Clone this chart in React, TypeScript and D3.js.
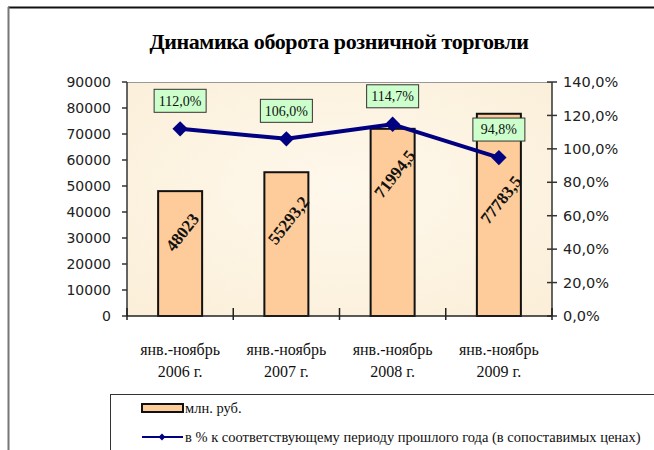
import React from "react";
import * as d3 from "d3";

const categoriesTop = ["янв.-ноябрь", "янв.-ноябрь", "янв.-ноябрь", "янв.-ноябрь"];
const categoriesBottom = ["2006 г.", "2007 г.", "2008 г.", "2009 г."];
const barValues = [48023, 55293.2, 71994.5, 77783.5];
const barLabels = ["48023", "55293,2", "71994,5", "77783,5"];
const pctValues = [112.0, 106.0, 114.7, 94.8];
const pctLabels = ["112,0%", "106,0%", "114,7%", "94,8%"];
const leftTicks = [0, 10000, 20000, 30000, 40000, 50000, 60000, 70000, 80000, 90000];
const rightTicks = [0, 20, 40, 60, 80, 100, 120, 140];
const legendBar = "млн. руб.";
const legendLine = "в % к соответствующему периоду прошлого года (в сопоставимых ценах)";
const title = "Динамика оборота розничной торговли";

// layout: bar label centre offset below bar top
const barLabelDy = [41, 48, 45, 86];

export default function App() {
  const W = 654, H = 450;
  const x0 = 127, x1 = 552, yTop = 82, yBot = 316;
  const idx = d3.range(barValues.length);
  const xBand = d3.scaleBand<number>().domain(idx).range([x0, x1]).paddingInner(0).paddingOuter(0);
  const yL = d3.scaleLinear().domain([0, 90000]).range([yBot, yTop]);
  const yR = d3.scaleLinear().domain([0, 140]).range([yBot, yTop]);
  const bw = xBand.bandwidth();
  const barW = 44;
  const cx = (i: number) => (xBand(i) as number) + bw / 2;
  const line = d3.line<number>().x((d, i) => cx(i)).y((d) => yR(d));
  const serif = "Liberation Serif, Times New Roman, serif";
  const sans = "DejaVu Sans, Tahoma, sans-serif";
  const fmtL = (v: number) => String(v);
  const fmtR = (v: number) => v.toFixed(1).replace(".", ",") + "%";

  return (
    <svg width={W} height={H} style={{ position: "absolute", left: 0, top: 0 }}>
      <defs>
        <radialGradient id="bg" cx="50%" cy="45%" r="70%">
          <stop offset="0%" stopColor="#fef8ec" />
          <stop offset="100%" stopColor="#fbefd9" />
        </radialGradient>
      </defs>
      <rect x={0} y={0} width={W} height={H} fill="#ffffff" />
      {/* frame */}
      <line x1={8} y1={7.5} x2={W} y2={7.5} stroke="#111" strokeWidth={2} />
      <line x1={8.5} y1={7} x2={8.5} y2={H} stroke="#777" strokeWidth={2} />
      {/* title */}
      <text x={339} y={49} textAnchor="middle" fontFamily={serif} fontWeight="bold" fontSize={22} fill="#000" letterSpacing={-0.4}>
        {title}
      </text>
      {/* plot area */}
      <rect x={x0} y={yTop} width={x1 - x0} height={yBot - yTop} fill="url(#bg)" />
      <line x1={x0} y1={yTop + 0.5} x2={x1} y2={yTop + 0.5} stroke="#999" strokeWidth={1} />
      {/* bars */}
      {barValues.map((v, i) => (
        <rect key={"b" + i} x={cx(i) - barW / 2} y={yL(v)} width={barW} height={yBot - yL(v)}
          fill="#fdcc9a" stroke="#111" strokeWidth={2} />
      ))}
      {/* left axis */}
      <line x1={x0} y1={yTop} x2={x0} y2={yBot} stroke="#333" strokeWidth={1.5} />
      {leftTicks.map((t) => (
        <g key={"lt" + t}>
          <line x1={x0 - 5} x2={x0} y1={yL(t)} y2={yL(t)} stroke="#333" strokeWidth={1.5} />
          <text x={111} y={yL(t)} dy="0.35em" textAnchor="end" fontFamily={sans} fontSize={14} fill="#222">
            {fmtL(t)}
          </text>
        </g>
      ))}
      {/* right axis */}
      <line x1={x1} y1={yTop} x2={x1} y2={yBot} stroke="#333" strokeWidth={1.5} />
      {rightTicks.map((t) => (
        <g key={"rt" + t}>
          <line x1={x1 - 5} x2={x1 + 5} y1={yR(t)} y2={yR(t)} stroke="#333" strokeWidth={1.5} />
          <text x={563} y={yR(t)} dy="0.35em" textAnchor="start" fontFamily={sans} fontSize={14.5} fill="#222">
            {fmtR(t)}
          </text>
        </g>
      ))}
      {/* bottom axis */}
      <line x1={x0} y1={yBot} x2={x1} y2={yBot} stroke="#222" strokeWidth={1.5} />
      {d3.range(barValues.length + 1).map((k) => {
        const xx = x0 + k * bw;
        return <line key={"bt" + k} x1={xx} x2={xx} y1={yBot - 8} y2={yBot + 4} stroke="#222" strokeWidth={1.5} />;
      })}
      {categoriesTop.map((c, i) => (
        <text key={"c" + i} x={cx(i)} fontFamily={serif} fontSize={16} fill="#111" textAnchor="middle">
          <tspan x={cx(i)} y={355}>{c}</tspan>
          <tspan x={cx(i)} y={377}>{categoriesBottom[i]}</tspan>
        </text>
      ))}
      {/* bar labels */}
      {barValues.map((v, i) => (
        <text key={"bl" + i} transform={`translate(${cx(i) + 2},${yL(v) + barLabelDy[i]}) rotate(-52)`}
          textAnchor="middle" dy="0.35em" fontFamily={serif} fontWeight="bold" fontSize={17} fill="#111">
          {barLabels[i]}
        </text>
      ))}
      {/* line */}
      <path d={line(pctValues) as string} fill="none" stroke="#000080" strokeWidth={4} strokeLinejoin="round" />
      {pctValues.map((p, i) => (
        <path key={"m" + i} d={d3.symbol(d3.symbolDiamond2, 150)() as string}
          transform={`translate(${cx(i)},${yR(p)})`} fill="#000080" />
      ))}
      {/* pct labels */}
      {pctValues.map((p, i) => {
        const w = 52, h = 23;
        const ccy = yR(p) - 28;
        return (
          <g key={"pl" + i}>
            <rect x={cx(i) - w / 2} y={ccy - h / 2} width={w} height={h} fill="#ccffcc" stroke="#333" strokeWidth={1} />
            <text x={cx(i)} y={ccy} dy="0.35em" textAnchor="middle" fontFamily={serif} fontSize={14} fill="#111">
              {pctLabels[i]}
            </text>
          </g>
        );
      })}
      {/* legend */}
      <rect x={110.5} y={394.5} width={W} height={80} fill="#fff" stroke="#333" strokeWidth={1} />
      <rect x={142} y={404} width={41} height={8} fill="#fdcc9a" stroke="#111" strokeWidth={2} />
      <text x={185} y={408} dy="0.35em" fontFamily={serif} fontSize={14.5} fill="#111">{legendBar}</text>
      <line x1={142} x2={183} y1={437} y2={437} stroke="#000080" strokeWidth={2} />
      <path d={d3.symbol(d3.symbolDiamond2, 30)() as string} transform="translate(162,437)" fill="#000080" />
      <text x={185} y={437} dy="0.35em" fontFamily={serif} fontSize={14.5} fill="#111">{legendLine}</text>
    </svg>
  );
}
